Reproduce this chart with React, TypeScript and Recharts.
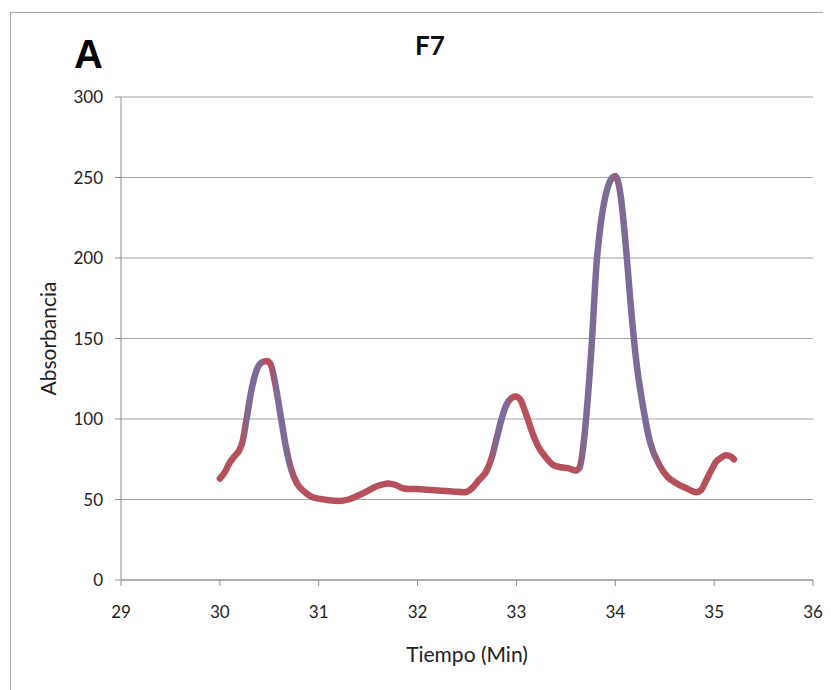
import React from "react";
import { LineChart, Line, XAxis, YAxis, CartesianGrid, Label } from "recharts";

const tiempo = [
  30.0, 30.05, 30.1, 30.15, 30.2, 30.23, 30.27, 30.32, 30.37, 30.42, 30.48, 30.52, 30.56, 30.62,
  30.67, 30.72, 30.78, 30.85, 30.92, 31.0, 31.1, 31.21, 31.3, 31.4, 31.5, 31.6, 31.7, 31.78,
  31.85, 31.92, 32.0, 32.1, 32.23, 32.35, 32.48, 32.55, 32.62, 32.7, 32.75, 32.8, 32.85, 32.9,
  32.95, 32.99, 33.04, 33.08, 33.12, 33.17, 33.22, 33.3, 33.37, 33.45, 33.52, 33.6, 33.64,
  33.68, 33.71, 33.76, 33.81, 33.85, 33.88, 33.93, 33.97, 34.0, 34.03, 34.06, 34.11, 34.16,
  34.21, 34.28, 34.35, 34.45, 34.53, 34.62, 34.72, 34.82, 34.87, 34.92, 34.97, 35.02, 35.07,
  35.12, 35.17, 35.2,
];
const absorbancia = [
  63, 67, 73, 77, 81, 86, 100, 118, 130, 135, 136, 133, 122, 100,
  82, 69, 60, 55, 52, 50.5, 49.5, 49, 50, 52.5, 55.5, 58.5, 60, 59,
  57, 56.5, 56.5, 56, 55.5, 55, 54.5, 57, 62, 68, 76, 88, 100, 109,
  113, 114, 112, 106, 99, 90, 83, 76, 71.5, 70, 69.5, 68, 70,
  85, 104, 145, 196, 220, 232, 245, 250, 251, 247, 236, 205, 168,
  137, 108, 86, 71, 64, 60, 57, 54.5, 56, 62, 68, 73.5, 76,
  77.5, 76.5, 75,
];
const yTicks = [0, 50, 100, 150, 200, 250, 300];
const xTicks = [29, 30, 31, 32, 33, 34, 35, 36];

const data = tiempo.map((t, i) => ({ t, v: absorbancia[i] }));

const RED = "#b6505a";
const PURPLE = "#7c6a98";
// colour shifts along the time axis where the trace is steep (markers separate)
const gradStops: [number, string][] = [
  [30.0, RED], [30.22, RED], [30.28, PURPLE], [30.4, PURPLE], [30.46, RED], [30.52, RED],
  [30.57, PURPLE], [30.68, PURPLE], [30.76, RED], [32.72, RED], [32.8, PURPLE], [32.9, PURPLE],
  [32.95, RED], [33.62, RED], [33.67, PURPLE], [33.96, PURPLE], [34.0, "#9a5b78"],
  [34.04, PURPLE], [34.36, PURPLE], [34.48, RED], [35.2, RED],
];
const tMin = tiempo[0];
const tMax = tiempo[tiempo.length - 1];

const font = "Lato, 'Open Sans', sans-serif";

export default function App() {
  return (
    <div style={{ position: "relative", width: 823, height: 682, fontFamily: font, background: "#fff" }}>
      <div
        style={{
          position: "absolute",
          left: 2,
          top: 4,
          width: 821,
          height: 678,
          borderLeft: "1.5px solid #a8a8a8",
          borderTop: "1.5px solid #a8a8a8",
        }}
      />
      <div
        style={{
          position: "absolute",
          left: 66,
          top: 24,
          fontFamily: "'Liberation Sans', Arial, sans-serif",
          fontWeight: 900,
          fontSize: 40,
          lineHeight: "44px",
          color: "#000",
        }}
      >
        A
      </div>
      <div
        style={{
          position: "absolute",
          left: 372,
          width: 100,
          textAlign: "center",
          top: 22,
          fontFamily: font,
          fontWeight: 700,
          fontSize: 26,
          lineHeight: "30px",
          color: "#111",
        }}
      >
        F7
      </div>
      <div style={{ position: "absolute", left: 0, top: 0 }}>
        <LineChart
          width={823}
          height={682}
          data={data}
          margin={{ top: 89, right: 18, bottom: 28, left: 53 }}
        >
          <defs>
            <linearGradient id="traceGrad" x1="0" y1="0" x2="1" y2="0">
              {gradStops.map(([t, c], i) => (
                <stop key={i} offset={(t - tMin) / (tMax - tMin)} stopColor={c} />
              ))}
            </linearGradient>
          </defs>
          <CartesianGrid vertical={false} stroke="#a4a4a4" strokeWidth={1.2} />
          <XAxis
            dataKey="t"
            type="number"
            domain={[29, 36]}
            ticks={xTicks}
            interval={0}
            height={82}
            tickSize={6}
            tickMargin={20}
            stroke="#8c8c8c"
            tick={{ fill: "#222", fontSize: 17, fontFamily: font }}
          >
            <Label value="Tiempo (Min)" position="insideBottom" offset={0} fill="#222" fontSize={21} fontFamily={font} />
          </XAxis>
          <YAxis
            dataKey="v"
            type="number"
            domain={[0, 300]}
            ticks={yTicks}
            interval={0}
            width={60}
            tickSize={6}
            tickMargin={12}
            stroke="#8c8c8c"
            tick={{ fill: "#222", fontSize: 17, fontFamily: font }}
          >
            <Label
              value="Absorbancia"
              angle={-90}
              position="insideLeft"
              offset={-12}
              fill="#222"
              fontSize={21}
              fontFamily={font}
              style={{ textAnchor: "middle" }}
            />
          </YAxis>
          <Line
            type="monotone"
            dataKey="v"
            stroke="url(#traceGrad)"
            strokeWidth={6.5}
            dot={false}
            activeDot={false}
            isAnimationActive={false}
            strokeLinecap="round"
            strokeLinejoin="round"
          />
        </LineChart>
      </div>
    </div>
  );
}
